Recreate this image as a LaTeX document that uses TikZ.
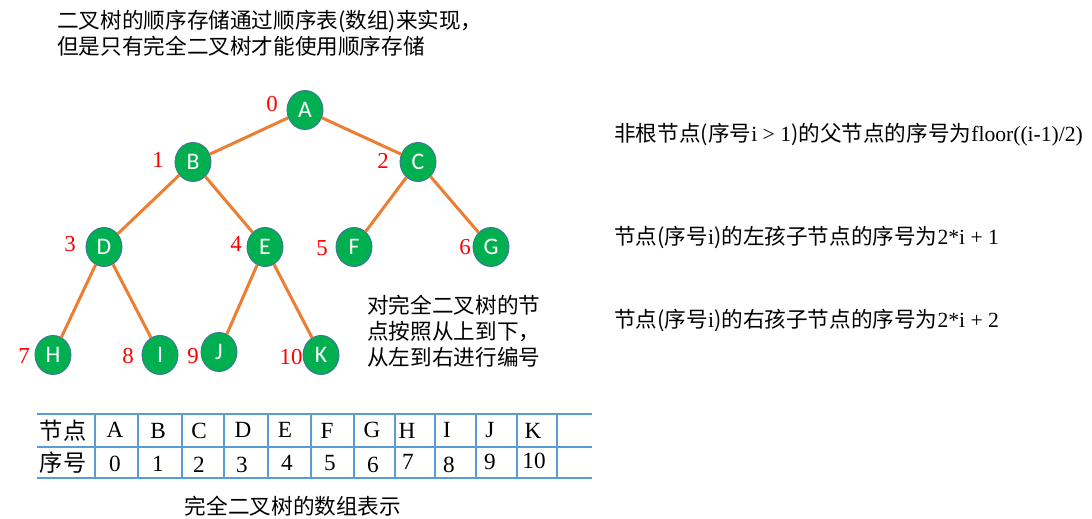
\documentclass[tikz,border=0pt]{standalone}
\usepackage{fontspec}
\setmainfont{Liberation Serif}
\newfontfamily\cjk{Noto Sans CJK SC}
\newfontfamily\letterfont{Carlito}
\usepackage{xcolor}
\usepackage{tikz}
\usetikzlibrary{shapes.geometric, positioning}
\definecolor{nodegreen}{HTML}{00B050}
\definecolor{nodeborder}{HTML}{41719C}
\definecolor{edgeorange}{HTML}{ED7D31}
\definecolor{tableblue}{HTML}{5B9BD5}
\tikzstyle{treenode} = [ellipse, minimum width=0.72cm, minimum height=0.78cm, inner sep=0pt, draw=nodeborder, line width=0.5pt, fill=nodegreen, text=white, font=\letterfont\fontsize{13.5}{15}\selectfont]
\tikzstyle{index} = [text=red, inner sep=1pt, font=\fontsize{13}{15}\selectfont]
\tikzstyle{edge} = [draw=edgeorange, line width=1.7pt]
\tikzstyle{note} = [anchor=west, align=left, inner sep=0pt, font=\fontsize{12.3}{14.8}\selectfont]
\tikzstyle{cell} = [inner sep=0pt, font=\fontsize{13.2}{15}\selectfont]
\tikzstyle{tabline} = [draw=tableblue, line width=0.8pt]

\begin{document}
\begin{tikzpicture}[x=0.02cm, y=-0.02cm]
\useasboundingbox (0,0) rectangle (1092,519);

% heading
\node (title) [note] at (57,33) {\cjk 二叉树的顺序存储通过顺序表(数组)来实现，\\ \cjk 但是只有完全二叉树才能使用顺序存储};

% tree
\node (A) [treenode] at (305,110) {A};
\node (B) [treenode] at (193,162) {B};
\node (C) [treenode] at (418,162) {C};
\node (D) [treenode] at (104,247) {D};
\node (E) [treenode] at (265,247) {E};
\node (F) [treenode] at (354,247) {F};
\node (G) [treenode] at (491,247) {G};
\node (H) [treenode] at (53,355) {H};
\node (I) [treenode] at (160,355) {I};
\node (J) [treenode] at (219,352) {J};
\node (K) [treenode] at (321,355) {K};

\draw [edge] (A) -- (B);
\draw [edge] (A) -- (C);
\draw [edge] (B) -- (D);
\draw [edge] (B) -- (E);
\draw [edge] (C) -- (F);
\draw [edge] (C) -- (G);
\draw [edge] (D) -- (H);
\draw [edge] (D) -- (I);
\draw [edge] (E) -- (J);
\draw [edge] (E) -- (K);

% order numbers
\node (n0) [index] at (272,104) {0};
\node (n1) [index] at (158,160) {1};
\node (n2) [index] at (383,161) {2};
\node (n3) [index] at (70,244) {3};
\node (n4) [index] at (236,244) {4};
\node (n5) [index] at (322,248) {5};
\node (n6) [index] at (465,247) {6};
\node (n7) [index] at (24,356) {7};
\node (n8) [index] at (128,356) {8};
\node (n9) [index] at (193,356) {9};
\node (n10) [index] at (291,357) {10};

\node (remark) [note] at (367,331) {\cjk 对完全二叉树的节\\ \cjk 点按照从上到下，\\ \cjk 从左到右进行编号};

% rules
\node (parent) [note] at (614,135) {{\cjk 非根节点(序号}i > 1{\cjk )的父节点的序号为}floor((i-1)/2)};
\node (left) [note] at (614,237) {{\cjk 节点(序号}i{\cjk )的左孩子节点的序号为}2*i + 1};
\node (right) [note] at (614,320) {{\cjk 节点(序号}i{\cjk )的右孩子节点的序号为}2*i + 2};

% array table
\draw [tabline] (37,414) -- (592,414);
\draw [tabline] (37,447) -- (592,447);
\draw [tabline] (37,478) -- (592,478);
\foreach \x in {95,138,182,224,268,311,354,395,435,476,517,557}
  \draw [tabline] (\x,414) -- (\x,479);

\node (hname) [cell] at (63,431) {\cjk 节点};
\node (hidx) [cell] at (63,463) {\cjk 序号};
\node (tA) [cell] at (115,430) {A};
\node (tB) [cell] at (158,431) {B};
\node (tC) [cell] at (199,431) {C};
\node (tD) [cell] at (243,430) {D};
\node (tE) [cell] at (285,430) {E};
\node (tF) [cell] at (327,431) {F};
\node (tG) [cell] at (372,430) {G};
\node (tH) [cell] at (407,431) {H};
\node (tI) [cell] at (447,430) {I};
\node (tJ) [cell] at (490,430) {J};
\node (tK) [cell] at (533,431) {K};
\node (sA) [cell] at (115,464) {0};
\node (sB) [cell] at (158,464) {1};
\node (sC) [cell] at (199,465) {2};
\node (sD) [cell] at (242,465) {3};
\node (sE) [cell] at (287,463) {4};
\node (sF) [cell] at (330,463) {5};
\node (sG) [cell] at (373,465) {6};
\node (sH) [cell] at (408,462) {7};
\node (sI) [cell] at (449,465) {8};
\node (sJ) [cell] at (490,462) {9};
\node (sK) [cell] at (534,461) {10};

\node (caption) [cell] at (293,506) {\cjk\fontsize{12.3}{14}\selectfont 完全二叉树的数组表示};

\end{tikzpicture}
\end{document}
